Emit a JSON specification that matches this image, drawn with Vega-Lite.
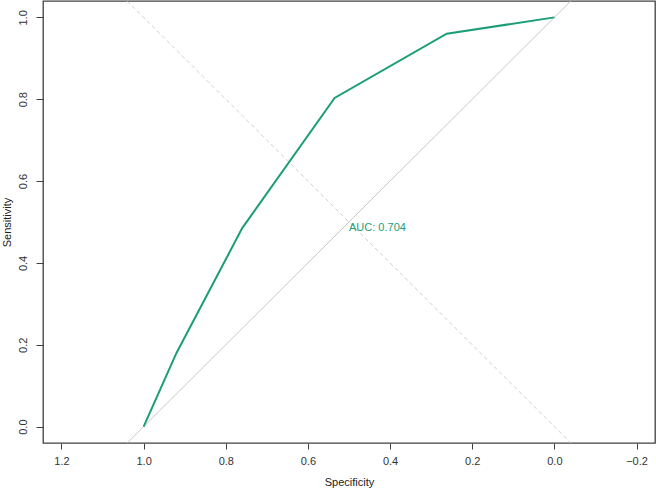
{
  "$schema": "https://vega.github.io/schema/vega-lite/v6.json",
  "width": 612,
  "height": 442,
  "autosize": {"type": "none"},
  "padding": {"left": 43, "top": 1, "right": 1, "bottom": 45},
  "background": "white",
  "config": {
    "font": "Liberation Sans",
    "view": {"stroke": "#404040", "strokeWidth": 1.3},
    "axis": {
      "grid": false,
      "domain": false,
      "tickColor": "#404040",
      "labelColor": "#333333",
      "titleColor": "#222222",
      "labelFont": "Liberation Sans",
      "titleFont": "Liberation Sans",
      "labelFontSize": 11,
      "titleFontSize": 11,
      "titleFontWeight": "normal"
    }
  },
  "datasets": {
    "roc": [
      {"specificity": 1.0, "sensitivity": 0.0},
      {"specificity": 0.92, "sensitivity": 0.18},
      {"specificity": 0.76, "sensitivity": 0.485},
      {"specificity": 0.535, "sensitivity": 0.803},
      {"specificity": 0.262, "sensitivity": 0.96},
      {"specificity": 0.0, "sensitivity": 1.0}
    ],
    "chance": [
      {"specificity": 1.04, "sensitivity": -0.04},
      {"specificity": -0.04, "sensitivity": 1.04}
    ],
    "dashed": [
      {"specificity": 1.04, "sensitivity": 1.04},
      {"specificity": -0.04, "sensitivity": -0.04}
    ],
    "auc": [
      {"specificity": 0.5, "sensitivity": 0.5, "label": "AUC: 0.704"}
    ]
  },
  "layer": [
    {
      "data": {"name": "chance"},
      "mark": {"type": "line", "color": "#c8c8c8", "strokeWidth": 1, "clip": true},
      "encoding": {
        "x": {"field": "specificity", "type": "quantitative",
              "scale": {"domain": [1.245, -0.245], "nice": false, "zero": false},
              "axis": {"values": [1.2, 1.0, 0.8, 0.6, 0.4, 0.2, 0.0, -0.2], "format": ".1f",
                       "title": "Specificity", "tickSize": 6, "labelPadding": 6, "titlePadding": 10}},
        "y": {"field": "sensitivity", "type": "quantitative",
              "scale": {"domain": [-0.04, 1.04], "nice": false, "zero": false},
              "axis": {"values": [0, 0.2, 0.4, 0.6, 0.8, 1.0], "format": ".1f",
                       "title": "Sensitivity", "tickSize": 7, "labelPadding": 8,
                       "labelAngle": -90, "labelAlign": "center", "labelBaseline": "bottom",
                       "titlePadding": 5}}
      }
    },
    {
      "data": {"name": "dashed"},
      "mark": {"type": "line", "color": "#d0d0d0", "strokeWidth": 1, "strokeDash": [4, 3], "clip": true},
      "encoding": {
        "x": {"field": "specificity", "type": "quantitative"},
        "y": {"field": "sensitivity", "type": "quantitative"}
      }
    },
    {
      "data": {"name": "roc"},
      "mark": {"type": "line", "color": "#1b9e77", "strokeWidth": 2},
      "encoding": {
        "x": {"field": "specificity", "type": "quantitative"},
        "y": {"field": "sensitivity", "type": "quantitative"},
        "order": {"field": "specificity", "sort": "descending"}
      }
    },
    {
      "data": {"name": "auc"},
      "mark": {"type": "text", "color": "#1b9e77", "fontSize": 11, "align": "left", "baseline": "top", "font": "Liberation Sans"},
      "encoding": {
        "x": {"field": "specificity", "type": "quantitative"},
        "y": {"field": "sensitivity", "type": "quantitative"},
        "text": {"field": "label"}
      }
    }
  ]
}
